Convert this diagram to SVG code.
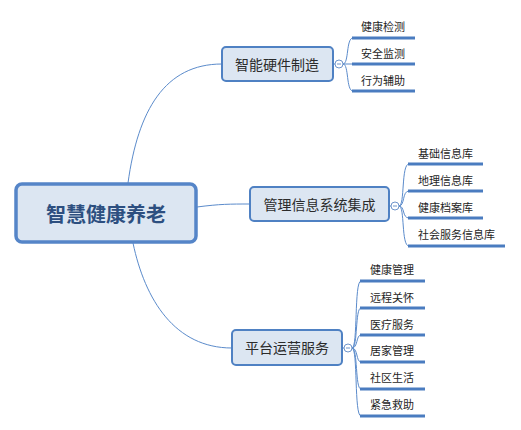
<svg xmlns="http://www.w3.org/2000/svg" width="521" height="430" viewBox="0 0 521 430">
<style>
.box{fill:#dce6f2;stroke:#4f81c3;stroke-width:2}
.root{fill:#dce6f2;stroke:#5585c8;stroke-width:3.5}
.conn{fill:none;stroke:#5b8bcb;stroke-width:1}
.under{stroke:#4a7cc0;stroke-width:3}
.tog{fill:#ffffff;stroke:#6f95cb;stroke-width:1}
.t1{font-family:"Noto Sans CJK SC","Liberation Sans",sans-serif;font-size:20px;font-weight:bold;fill:#2d4f80;text-anchor:middle;dominant-baseline:central}
.t2{font-family:"Noto Sans CJK SC","Liberation Sans",sans-serif;font-size:14px;fill:#2b2b2b;text-anchor:middle;dominant-baseline:central}
.t3{font-family:"Noto Sans CJK SC","Liberation Sans",sans-serif;font-size:11px;fill:#1e1e1e;dominant-baseline:central}
</style>
<g id="connectors">
<path class="conn" d="M128,183 C138,110 165,64 222,64"/>
<path class="conn" d="M197,207 C220,204 230,204 250,204"/>
<path class="conn" d="M133,243 C145,300 175,348 232,348"/>
<path class="conn" d="M333,64 L335,64"/>
<path class="conn" d="M343,64 C349,64 346,38 353,38"/>
<path class="conn" d="M343,64 L353,64"/>
<path class="conn" d="M343,64 C349,64 346,91 353,91"/>
<path class="conn" d="M389,206 L391,206"/>
<path class="conn" d="M399,206 C405,206 401,164 409,164"/>
<path class="conn" d="M399,206 C405,206 402,191 409,191"/>
<path class="conn" d="M399,206 C405,206 402,218 409,218"/>
<path class="conn" d="M399,206 C405,206 401,246 409,246"/>
<path class="conn" d="M342,348 L344,348"/>
<path class="conn" d="M352,348 C358,348 354,281 361,281"/>
<path class="conn" d="M352,348 C358,348 355,308 361,308"/>
<path class="conn" d="M352,348 C358,348 356,335 361,335"/>
<path class="conn" d="M352,348 C358,348 356,362 361,362"/>
<path class="conn" d="M352,348 C358,348 355,389 361,389"/>
<path class="conn" d="M352,348 C358,348 354,416 361,416"/>
</g>
<g id="root">
<rect class="root" x="16" y="184" width="180" height="58" rx="6"/>
<text class="t1" x="106" y="213">智慧健康养老</text>
</g>
<g id="b1">
<rect class="box" x="222" y="47" width="111" height="34" rx="4"/>
<text class="t2" x="277" y="64">智能硬件制造</text>
<circle class="tog" cx="339" cy="64" r="4"/>
<line x1="337" y1="64" x2="341" y2="64" stroke="#6f95cb" stroke-width="1"/>
</g>
<g id="b1c1"><line class="under" x1="352" y1="38" x2="415" y2="38"/><text class="t3" x="361" y="26">健康检测</text></g>
<g id="b1c2"><line class="under" x1="352" y1="64" x2="415" y2="64"/><text class="t3" x="361" y="53">安全监测</text></g>
<g id="b1c3"><line class="under" x1="352" y1="91" x2="415" y2="91"/><text class="t3" x="361" y="80">行为辅助</text></g>
<g id="b2">
<rect class="box" x="250" y="187" width="139" height="34" rx="4"/>
<text class="t2" x="319.5" y="204">管理信息系统集成</text>
<circle class="tog" cx="395" cy="206" r="4"/>
<line x1="393" y1="206" x2="397" y2="206" stroke="#6f95cb" stroke-width="1"/>
</g>
<g id="b2c1"><line class="under" x1="408" y1="164" x2="483" y2="164"/><text class="t3" x="418" y="153">基础信息库</text></g>
<g id="b2c2"><line class="under" x1="408" y1="191" x2="483" y2="191"/><text class="t3" x="418" y="180">地理信息库</text></g>
<g id="b2c3"><line class="under" x1="408" y1="218" x2="483" y2="218"/><text class="t3" x="418" y="207">健康档案库</text></g>
<g id="b2c4"><line class="under" x1="408" y1="246" x2="505" y2="246"/><text class="t3" x="418" y="234">社会服务信息库</text></g>
<g id="b3">
<rect class="box" x="232" y="330" width="110" height="35" rx="4"/>
<text class="t2" x="287" y="347">平台运营服务</text>
<circle class="tog" cx="348" cy="348" r="4"/>
<line x1="346" y1="348" x2="350" y2="348" stroke="#6f95cb" stroke-width="1"/>
</g>
<g id="b3c1"><line class="under" x1="360" y1="281" x2="425" y2="281"/><text class="t3" x="370" y="269">健康管理</text></g>
<g id="b3c2"><line class="under" x1="360" y1="308" x2="425" y2="308"/><text class="t3" x="370" y="297">远程关怀</text></g>
<g id="b3c3"><line class="under" x1="360" y1="335" x2="425" y2="335"/><text class="t3" x="370" y="324">医疗服务</text></g>
<g id="b3c4"><line class="under" x1="360" y1="362" x2="425" y2="362"/><text class="t3" x="370" y="350">居家管理</text></g>
<g id="b3c5"><line class="under" x1="360" y1="389" x2="425" y2="389"/><text class="t3" x="370" y="377">社区生活</text></g>
<g id="b3c6"><line class="under" x1="360" y1="416" x2="425" y2="416"/><text class="t3" x="370" y="404">紧急救助</text></g>
</svg>
